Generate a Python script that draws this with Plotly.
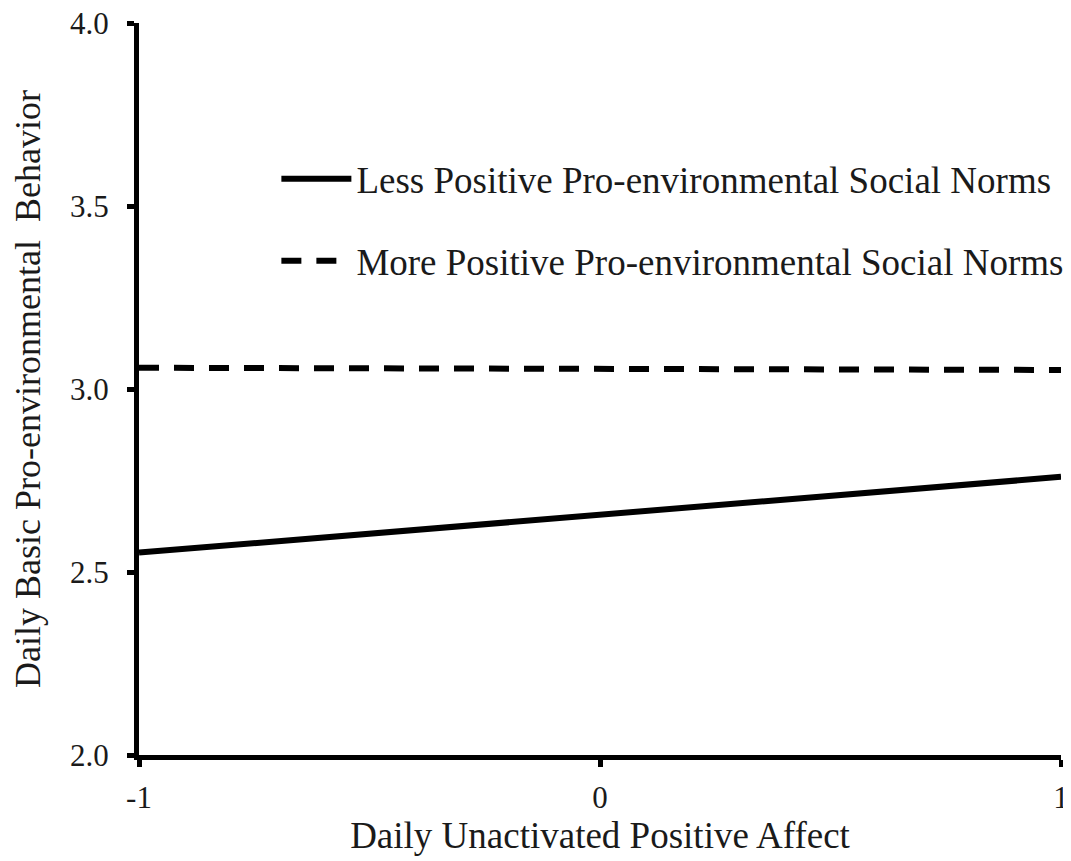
import plotly.graph_objects as go

x_vals = [-1, 1]
less_positive = [2.553, 2.760]
more_positive = [3.058, 3.052]
series_names = ["Less Positive Pro-environmental Social Norms",
                "More Positive Pro-environmental Social Norms"]
x_ticks = [-1, 0, 1]
x_ticklabels = ["-1", "0", "1"]
y_ticks = [2.0, 2.5, 3.0, 3.5, 4.0]
y_ticklabels = ["2.0", "2.5", "3.0", "3.5", "4.0"]

FONT = "Liberation Serif, Times New Roman, serif"

fig = go.Figure()
fig.add_trace(go.Scatter(x=x_vals, y=less_positive, mode="lines", name=series_names[0],
                         legendgroup="a", line=dict(color="black", width=6)))
fig.add_trace(go.Scatter(x=x_vals, y=more_positive, mode="lines", name=series_names[1],
                         legendgroup="b", line=dict(color="black", width=6, dash="20px,15px")))

fig.update_layout(
    width=1071, height=853,
    margin=dict(l=131, r=18, t=15, b=106, autoexpand=False),
    paper_bgcolor="white", plot_bgcolor="white",
    font=dict(family=FONT, color="#1a1a1a", size=37),
    showlegend=True,
    legend=dict(x=0.149, y=0.829, xanchor="left", yanchor="top",
                bgcolor="rgba(0,0,0,0)", font=dict(size=37, family=FONT),
                tracegroupgap=31, itemwidth=70),
    xaxis=dict(range=[-1, 1], tickvals=x_ticks, ticktext=x_ticklabels,
               showline=True, linewidth=5, linecolor="black", ticks="outside",
               ticklen=7, tickwidth=5, tickcolor="black", showgrid=False, zeroline=False,
               automargin=False, ticklabelstandoff=4, ticklabeloverflow="allow",
               title=dict(text="Daily Unactivated Positive Affect", font=dict(size=37), standoff=2),
               tickfont=dict(size=31)),
    yaxis=dict(range=[2, 4], tickvals=y_ticks, ticktext=y_ticklabels,
               showline=True, linewidth=5, linecolor="black", ticks="outside",
               ticklen=7, tickwidth=5, tickcolor="black", showgrid=False, zeroline=False,
               automargin=False, ticklabelstandoff=12, ticklabeloverflow="allow",
               title=dict(text="Daily Basic Pro-environmental  Behavior", font=dict(size=36), standoff=25),
               tickfont=dict(size=31)),
)

fig.write_html("out.html", config={"displayModeBar": False})
